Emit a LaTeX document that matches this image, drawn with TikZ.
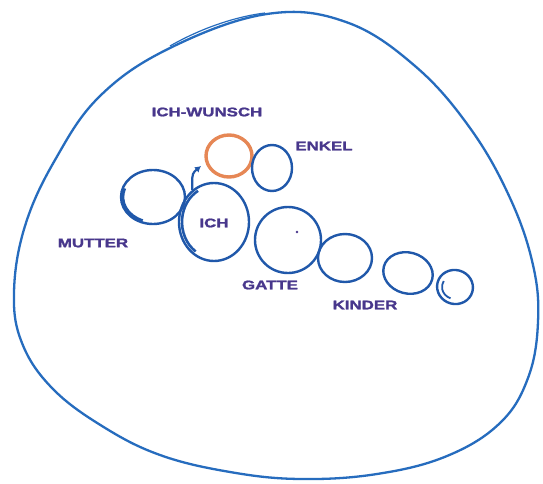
\documentclass[tikz,border=0pt]{standalone}
\usepackage{fontspec}
\setmainfont{Liberation Sans}
\newfontfamily\heavyfont{Liberation Sans Bold}[FakeBold=1.4]
\usepackage{graphicx}
\usetikzlibrary{shapes.geometric,arrows.meta}
\definecolor{outerblue}{RGB}{38,108,190}
\definecolor{ringblue}{RGB}{32,88,170}
\definecolor{wishorange}{RGB}{230,135,85}
\definecolor{labelpurple}{RGB}{72,55,140}
\tikzset{
  ring/.style={ellipse, draw=ringblue, line width=2.4pt, inner sep=0pt},
  wishring/.style={ellipse, draw=wishorange, line width=3.4pt, inner sep=0pt},
  lbl/.style={text=labelpurple, font=\fontsize{12.5}{14}\heavyfont, inner sep=0pt},
}
\newcommand{\wlbl}[1]{\scalebox{1.35}[1]{#1}}
\begin{document}
\begin{tikzpicture}[x=1pt,y=-1pt]
\useasboundingbox (0,0) rectangle (543,484);
\fill[white] (0,0) rectangle (543,484);
% outer boundary
\draw[outerblue, line width=2.3pt] plot[smooth cycle, tension=0.65] coordinates {
 (267,14) (346,22) (415,66) (470,128) (510,198) (533,265) (538,322) (528,378)
 (500,423) (447,456) (377,474) (300,479) (230,472) (160,455) (102,426) (52,388)
 (22,343) (14,292) (25,226) (55,160) (100,96) (170,48)};
\draw[outerblue, line width=1.2pt] (170,46) .. controls (205,26) and (240,16) .. (265,13);
% circles
\node[ring, minimum width=64pt, minimum height=54pt] (mutter) at (153,197) {};
\draw[ringblue, line width=2.6pt] (mutter.center) ++(250:30pt and 25pt)
  arc[x radius=30pt, y radius=25pt, start angle=250, end angle=160];
\node[ring, minimum width=70pt, minimum height=78pt] (ich) at (214,222) {};
\draw[ringblue, line width=2.6pt] (ich.center) ++(235:32pt and 36pt)
  arc[x radius=32pt, y radius=36pt, start angle=235, end angle=120];
\node[wishring, minimum width=46pt, minimum height=42pt] (wunsch) at (229,156) {};
\node[ring, minimum width=40pt, minimum height=46pt] (enkel) at (272,168) {};
\node[ring, minimum width=66pt, minimum height=66pt] (gatte) at (288,240) {};
\node[ring, minimum width=54pt, minimum height=48pt] (kind1) at (345,258) {};
\node[ring, minimum width=50pt, minimum height=41pt, rotate=-15] (kind2) at (408,273) {};
\node[ring, minimum width=36pt, minimum height=34pt, rotate=-15] (kind3) at (455,287) {};
\draw[ringblue, line width=1.8pt] (kind3.center) ++(250:13pt and 12pt)
  arc[x radius=13pt, y radius=12pt, start angle=250, end angle=150];
\fill[labelpurple] (297,232) circle (1.3pt);
% arrow
\coordinate (arrtip) at (201,166);
\draw[ringblue, line width=2.2pt, -{Latex[length=6pt,width=7pt]}] (ich.124) -- ++(0,-12) to[out=90,in=220] (arrtip);
% labels
\node[lbl] (lwunsch) at (207,112) {\wlbl{ICH-WUNSCH}};
\node[lbl] (lenkel) at (324,146) {\wlbl{ENKEL}};
\node[lbl] (lmutter) at (93,243) {\wlbl{MUTTER}};
\node[lbl] (lich) at (214,223) {\wlbl{ICH}};
\node[lbl] (lgatte) at (270,285) {\wlbl{GATTE}};
\node[lbl] (lkinder) at (365,305) {\wlbl{KINDER}};
\end{tikzpicture}
\end{document}
